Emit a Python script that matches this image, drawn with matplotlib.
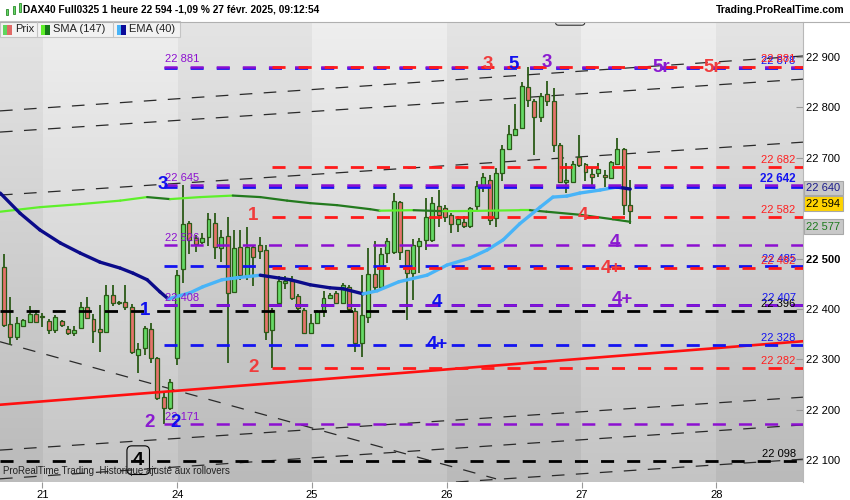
import matplotlib
matplotlib.use("Agg")
import matplotlib.pyplot as plt
import matplotlib.transforms as mtransforms
from matplotlib.collections import LineCollection
from matplotlib.patches import Rectangle, FancyBboxPatch
import numpy as np

plt.rcParams["font.family"] = ["Liberation Sans", "DejaVu Sans"]
plt.rcParams["lines.scale_dashes"] = False

# ---- data --------------------------------------------------------------
FIRST_BAR = -6          # bars before the first visible day tick
BARS_PER_DAY = 21.1
DAY_LABELS = ["21", "24", "25", "26", "27", "28"]

OPEN = [22483, 22370, 22345, 22367, 22375, 22391,
        22385, 22377, 22358, 22377, 22360, 22352, 22362, 22403, 22380, 22360, 22355,
        22428, 22411, 22413, 22403, 22309, 22322, 22360, 22302, 22226, 22203,
        22302, 22479, 22570, 22540, 22532, 22543, 22571, 22520, 22545, 22434, 22522,
        22465, 22522, 22527, 22517, 22358, 22411, 22452, 22456, 22426, 22398,
        22352, 22372, 22395, 22422, 22431, 22411, 22443, 22395, 22332, 22385, 22469,
        22443, 22511, 22514, 22613, 22517, 22471, 22524, 22536, 22537, 22604,
        22600, 22587, 22569, 22572, 22565, 22604, 22646, 22655, 22580, 22669, 22717,
        22745, 22760, 22840, 22813, 22780, 22826, 22813, 22725, 22651, 22651,
        22702, 22687, 22668, 22669, 22666, 22659, 22688, 22718, 22606]
HIGH = [22509, 22424, 22385, 22381, 22405, 22398,
        22393, 22381, 22388, 22378, 22366, 22366, 22414, 22423, 22391, 22408, 22448,
        22448, 22415, 22448, 22410, 22332, 22366, 22372, 22305, 22233, 22262,
        22477, 22645, 22575, 22547, 22550, 22591, 22591, 22557, 22583, 22557, 22557,
        22562, 22527, 22543, 22527, 22401, 22465, 22465, 22465, 22430, 22402,
        22391, 22398, 22436, 22432, 22436, 22452, 22448, 22401, 22467, 22520, 22534,
        22520, 22541, 22630, 22615, 22517, 22538, 22541, 22620, 22623, 22637,
        22606, 22590, 22584, 22584, 22602, 22653, 22669, 22666, 22679, 22725, 22765,
        22807, 22851, 22881, 22816, 22829, 22853, 22838, 22730, 22689, 22694,
        22745, 22689, 22679, 22689, 22676, 22694, 22739, 22720, 22656]
LOW = [22365, 22329, 22338, 22365, 22372, 22372,
       22365, 22350, 22352, 22365, 22349, 22346, 22360, 22380, 22332, 22315, 22352,
       22405, 22408, 22398, 22310, 22272, 22309, 22292, 22219, 22171, 22199,
       22289, 22452, 22510, 22514, 22528, 22524, 22499, 22494, 22292, 22431, 22457,
       22457, 22446, 22500, 22338, 22282, 22409, 22440, 22418, 22397, 22350,
       22350, 22370, 22385, 22420, 22409, 22409, 22395, 22315, 22305, 22372, 22438,
       22438, 22491, 22510, 22497, 22378, 22418, 22471, 22517, 22532, 22562,
       22573, 22551, 22553, 22561, 22561, 22596, 22633, 22567, 22563, 22653, 22715,
       22743, 22757, 22801, 22706, 22770, 22803, 22712, 22649, 22630, 22649,
       22682, 22653, 22643, 22661, 22643, 22657, 22686, 22587, 22569]
CLOSE = [22368, 22345, 22372, 22378, 22391, 22375,
         22386, 22358, 22385, 22368, 22352, 22358, 22403, 22382, 22357, 22355, 22428,
         22411, 22413, 22403, 22315, 22320, 22362, 22302, 22224, 22203, 22256,
         22467, 22568, 22537, 22529, 22540, 22578, 22522, 22542, 22432, 22520, 22467,
         22522, 22503, 22516, 22355, 22398, 22456, 22456, 22422, 22401, 22352,
         22372, 22395, 22422, 22428, 22411, 22448, 22400, 22333, 22388, 22469, 22443,
         22509, 22535, 22614, 22514, 22471, 22527, 22535, 22583, 22610, 22587,
         22582, 22569, 22578, 22565, 22600, 22644, 22661, 22577, 22669, 22717, 22747,
         22758, 22842, 22815, 22780, 22823, 22813, 22725, 22651, 22655, 22687,
         22686, 22672, 22661, 22678, 22661, 22691, 22718, 22606, 22594]

# moving averages, read as (bar, value) points
EMA_X = [-6.6, -3.5, -0.4, 2.8, 5.9, 9.0, 12.2, 14.2, 16.4, 18.4, 19.7, 23.1, 25.1,
         28.1, 30.5, 34.1, 38.8, 41.9, 45.0, 47.1, 50.2, 52.4, 55.8, 60.2, 63.3,
         66.9, 69.6, 72.1, 74.7, 77.9, 79.9, 82.1, 84.1, 87.3, 89.9, 92.0]
EMA_Y = [22630, 22590, 22557, 22531, 22511, 22493, 22481, 22471, 22458, 22434, 22420,
         22432, 22444, 22458, 22462, 22467, 22458, 22448, 22442, 22440, 22430, 22436,
         22454, 22467, 22487, 22501, 22517, 22537, 22569, 22602, 22622, 22624, 22630,
         22636, 22642, 22638]
SMA_X = [-6.6, -0.4, 5.9, 12.2, 16.4, 20.0, 24.7, 29.8, 34.1, 38.3, 41.9, 46.1,
         51.3, 52.8, 58.1, 62.7, 66.9, 74.7, 76.3, 78.9, 84.1, 89.3, 92.0]
SMA_Y = [22593, 22602, 22608, 22615, 22622, 22618, 22622, 22625, 22622, 22615, 22610,
         22606, 22598, 22595, 22596, 22594, 22594.5, 22596, 22596, 22593, 22587,
         22578, 22573]

# horizontal levels
PURPLE_LEVELS = [22881, 22645, 22526, 22408, 22171]
BLUE_LEVELS = [22878, 22642, 22485, 22407, 22328]
RED_LEVELS = [22881, 22682, 22582, 22482, 22282]
BLACK_LEVELS = [22396, 22098]
PURPLE_FROM, BLUE_FROM, RED_FROM = 19.0, 19.0, 35.9

# thin dashed trend lines (bar0, price0, bar1, price1)
TRENDS = [(-6.63, 22793, 119.04, 22902),
          (-6.63, 22751, 119.04, 22856),
          (-6.63, 22626, 119.04, 22731),
          (-6.63, 22120, 119.04, 22225),
          (-6.63, 22063, 119.04, 22170),
          (-6.63, 21997, 119.04, 22102),
          (-6.63, 22335, 71.0, 22063)]
RED_TREND = (-6.63, 22210, 119.04, 22336)

# wave labels: text, colour, bar, price
WAVES = [("3", "red", 69.7, 22886), ("5", "blue", 73.7, 22886), ("3", "purple", 79.0, 22890),
         ("5r", "purple", 96.8, 22880), ("5r", "red", 104.9, 22880),
         ("1", "red", 33.0, 22586), ("2", "red", 33.0, 22283),
         ("4", "red", 84.6, 22586), ("4+", "red", 89.0, 22481),
         ("4", "purple", 89.6, 22531), ("4+", "purple", 90.7, 22418),
         ("4", "blue", 61.8, 22412), ("4+", "blue", 61.8, 22329),
         ("1", "blue", 16.1, 22396), ("3", "blue", 18.9, 22646),
         ("2", "purple", 16.8, 22174), ("2", "blue", 20.9, 22174)]

LAST, EMA_LAST, SMA_LAST = 22594, 22640, 22577

COL = {"red": "#ff1a1a", "blue": "#1414f0", "purple": "#8c10d0", "black": "#000000"}
WAVE_COL = {"red": "#f03c3c", "blue": "#1010ee", "purple": "#8a1ad0"}
UP, DOWN, EDGE = "#66d966", "#e5736b", "#2b5a17"

XLIM = (-6.63, 119.04)
YLIM = (22056.7, 22969.4)


def fmt(v):
    return f"{int(v):,}".replace(",", " ")


def two_tone(ax, xs, ys, up, down, lw):
    pts = np.column_stack([xs, ys])
    segs = np.stack([pts[:-1], pts[1:]], axis=1)
    cols = [up if b[1] >= a[1] else down for a, b in segs]
    ax.add_collection(LineCollection(segs, colors=cols, linewidths=lw,
                                     capstyle="round", joinstyle="round", zorder=4))


fig = plt.figure(figsize=(8.5, 5), dpi=100)
fig.patch.set_facecolor("white")
ax = fig.add_axes([0, 18 / 500, 803 / 850, 460 / 500])
ax.set_xlim(*XLIM)
ax.set_ylim(*YLIM)

# background: vertical gradient with alternating day bands
cols = np.linspace(XLIM[0], XLIM[1], 800)
rows = np.linspace(0, 1, 300)[:, None]
dark = (np.floor(cols / BARS_PER_DAY) % 2 == 1)[None, :]
grey = np.where(dark, 0.895, 0.935) - 0.165 * rows
ax.imshow(np.dstack([grey] * 3), extent=(*XLIM, *YLIM), aspect="auto",
          origin="upper", zorder=0, interpolation="nearest")

# thin dashed trend lines
for x0, y0, x1, y1 in TRENDS:
    ax.plot([x0, x1], [y0, y1], color="#2a2a2a", lw=0.9, dashes=(9.1, 8.2), zorder=2)
ax.plot(RED_TREND[::2], RED_TREND[1::2], color="#ff1010", lw=1.9, zorder=3)

# candles
bars = np.arange(len(OPEN)) + FIRST_BAR
o, h, l, c = map(np.array, (OPEN, HIGH, LOW, CLOSE))
ax.vlines(bars, l, h, color=EDGE, lw=1.3, zorder=2.5)
ax.bar(bars, np.maximum(np.abs(c - o), 1.5), bottom=np.minimum(o, c), width=0.62,
       color=np.where(c >= o, UP, DOWN), edgecolor=EDGE, linewidth=0.9, zorder=2.6)

# moving averages
two_tone(ax, SMA_X, SMA_Y, "#5ef02a", "#237a1e", 1.6)
two_tone(ax, EMA_X, EMA_Y, "#48b4f8", "#0b0b8a", 2.4)

# horizontal levels
dash = (9.4, 9.4)
for lvl in BLACK_LEVELS:
    ax.plot(XLIM, [lvl, lvl], color=COL["black"], lw=2.0, dashes=dash, zorder=5)
for lvl in BLUE_LEVELS:
    ax.plot([BLUE_FROM, XLIM[1]], [lvl, lvl], color=COL["blue"], lw=2.0, dashes=dash, zorder=5)
for lvl in PURPLE_LEVELS:
    ax.plot([PURPLE_FROM, XLIM[1]], [lvl, lvl], color=COL["purple"], lw=1.8, dashes=dash, zorder=5.1)
for lvl in RED_LEVELS:
    ax.plot([RED_FROM, XLIM[1]], [lvl, lvl], color=COL["red"], lw=2.0, dashes=dash, zorder=5.2)

above = mtransforms.offset_copy(ax.transData, fig, y=1.5, units="points")
for lvl in PURPLE_LEVELS:
    ax.text(PURPLE_FROM + 0.2, lvl, fmt(lvl), color=COL["purple"], fontsize=8,
            ha="left", va="bottom", transform=above, zorder=6)
right_x = 117.9
for lvl in BLACK_LEVELS:
    ax.text(right_x, lvl, fmt(lvl), color="black", fontsize=8, ha="right",
            va="bottom", transform=above, zorder=6)
for lvl in BLUE_LEVELS:
    bold = "bold" if lvl == 22642 else "normal"
    ax.text(right_x, lvl, fmt(lvl), color=COL["blue"], fontsize=8.5 if bold == "bold" else 8,
            fontweight=bold, ha="right", va="bottom", transform=above, zorder=6)
for lvl in RED_LEVELS:
    ax.text(right_x, lvl, fmt(lvl), color="#ff2020", fontsize=8, ha="right",
            va="bottom", transform=above, zorder=6.1)

for txt, key, x, y in WAVES:
    ax.text(x, y, txt, color=WAVE_COL[key], fontsize=13.5, fontweight="bold",
            ha="center", va="center", zorder=7)
ax.text(15.0, 22100, "4", color="black", fontsize=14, fontweight="bold", ha="center",
        va="center", zorder=7,
        bbox=dict(boxstyle="round,pad=0.3,rounding_size=0.25", fc="none", ec="black", lw=0.8))
ax.add_patch(FancyBboxPatch((80.3, 22963), 4.6, 60, boxstyle="round,pad=0,rounding_size=0.5",
                            mutation_aspect=12.7, fc="none", ec="#333333", lw=0.8, zorder=7))

ax.text(0.004, 0.012, "ProRealTime Trading  Historique ajusté aux rollovers",
        transform=ax.transAxes, fontsize=7, color="#222222", ha="left", va="bottom", zorder=8)

# axes
for side in ("top", "left", "bottom"):
    ax.spines[side].set_visible(False)
ax.spines["right"].set_color("#b8b8b8")
ax.yaxis.tick_right()
yt = [22100, 22200, 22300, 22400, 22500, 22700, 22800, 22900]
ax.set_yticks(yt, [fmt(v) for v in yt])
for lab, v in zip(ax.get_yticklabels(), yt):
    if v == 22500:
        lab.set_fontweight("bold")
ax.tick_params(axis="y", direction="in", length=5, color="#999999", labelsize=8,
               pad=2, labelcolor="black")
ax.set_xticks(np.arange(len(DAY_LABELS)) * BARS_PER_DAY, DAY_LABELS)
ax.tick_params(axis="x", direction="out", length=4, color="#999999", labelsize=8, pad=2)

side = mtransforms.blended_transform_factory(ax.transAxes, ax.transData)
for val, ypos, fc, tc in [(EMA_LAST, 22640, "#c8c8c8", "#1c1c8c"),
                          (LAST, 22609, "#ffd400", "black"),
                          (SMA_LAST, 22563, "#c8c8c8", "#1e7b1e")]:
    ax.text(1.004, ypos, fmt(val), transform=side, fontsize=8, color=tc, ha="left",
            va="center", clip_on=False, zorder=9,
            bbox=dict(boxstyle="square,pad=0.22", fc=fc, ec="#a8a8a8", lw=0.8))

# header and legend (figure pixels)
def px(x, y):
    return x / 850, 1 - y / 500

fig.patches.append(Rectangle(px(0, 21), 1, 21 / 500, transform=fig.transFigure,
                             fc="white", ec="none", zorder=10))
fig.add_artist(plt.Line2D([0, 1], [px(0, 21.5)[1]] * 2, color="#b0b0b0", lw=0.8, zorder=11))
for x0, y0, x1, y1, colr in [(13, 6, 15, 14, "#2b8a2b"), (19, 3, 21, 12, "#2b8a2b")]:
    fig.patches.append(Rectangle(px(x0, y1), (x1 - x0) / 850, (y1 - y0) / 500,
                                 transform=fig.transFigure, fc="#66d966", ec=colr,
                                 lw=0.6, zorder=11))
fig.patches.append(Rectangle(px(6, 15), 2 / 850, 6 / 500, transform=fig.transFigure,
                             fc="#66d966", ec="#2b8a2b", lw=0.6, zorder=11))
fig.text(*px(23, 10), "DAX40 Full0325 1 heure 22 594 -1,09 % 27 févr. 2025, 09:12:54",
         fontsize=7.25, fontweight="bold", ha="left", va="center", zorder=12)
fig.text(*px(845, 10), "Trading.ProRealTime.com", fontsize=7.5, fontweight="bold",
         ha="right", va="center", zorder=12)

fig.patches.append(Rectangle(px(0, 37), 180 / 850, 16 / 500, transform=fig.transFigure,
                             fc="#f2f2f2", ec="#c4c4c4", lw=0.8, zorder=10))
for sx in (37, 113):
    fig.add_artist(plt.Line2D([sx / 850] * 2, [px(0, 22)[1], px(0, 36)[1]],
                              color="#c4c4c4", lw=0.8, zorder=11))
for x0, left, right, label, tx in [(3, "#5ed65e", "#e06a66", "Prix", 15),
                                   (41, "#5ef02a", "#16791a", "SMA (147)", 53),
                                   (117, "#48b4f8", "#0a0a9a", "EMA (40)", 129)]:
    fig.patches.append(Rectangle(px(x0, 35), 4 / 850, 10 / 500, transform=fig.transFigure,
                                 fc=left, ec="none", zorder=11))
    fig.patches.append(Rectangle(px(x0 + 4, 35), 5 / 850, 10 / 500, transform=fig.transFigure,
                                 fc=right, ec="none", zorder=11))
    fig.text(*px(tx, 29.5), label, fontsize=8, ha="left", va="center", color="#222222",
             zorder=12)

fig.savefig("out.png", dpi=100)
